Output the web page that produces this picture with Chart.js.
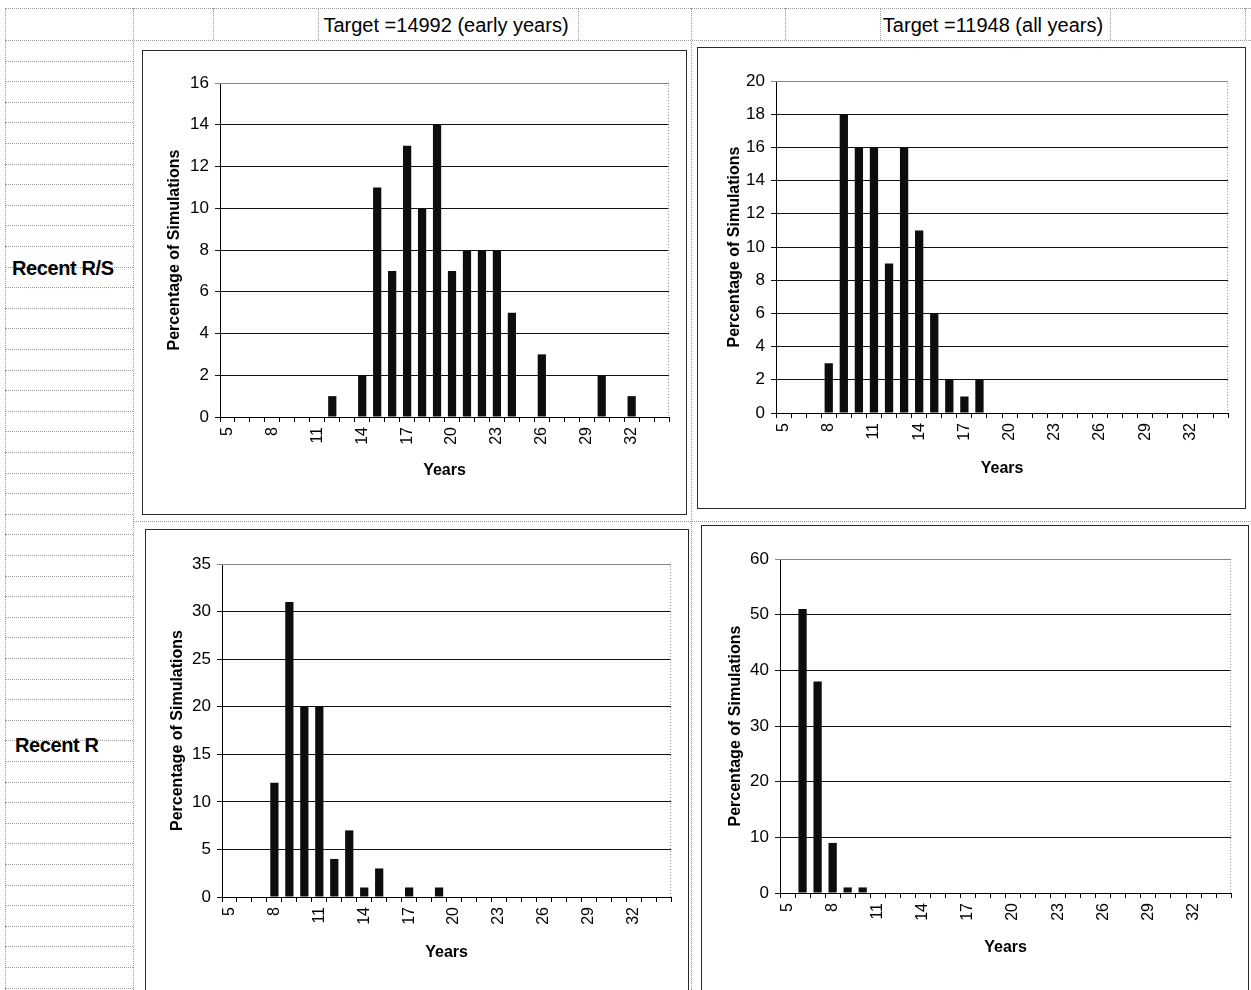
<!DOCTYPE html>
<html>
<head>
<meta charset="utf-8">
<script src="https://cdn.jsdelivr.net/npm/chart.js@4.4.1/dist/chart.umd.min.js"></script>
<style>
  html, body { margin: 0; padding: 0; background: #fff; }
  body { width: 1251px; height: 990px; position: relative; overflow: hidden; font-family: "Liberation Sans", Arial, sans-serif; }
  .hl { position: absolute; height: 0; border-top: 1px dotted #9a9a9a; }
  .vl { position: absolute; width: 0; border-left: 1px dotted #9a9a9a; }
  .box { position: absolute; border: 1px solid #2a2a2a; background: #fff; }
  .box canvas { display: block; }
  .head { position: absolute; font-size: 20px; color: #000; transform: translate(-50%, -50%); white-space: nowrap; }
  .row { position: absolute; font-size: 20px; font-weight: bold; color: #000; transform: translateY(-50%); letter-spacing: -0.4px; white-space: nowrap; }
</style>
</head>
<body>
<div id="sheet"></div>
<div class="head" style="left:446px; top:25px;">Target =14992 (early years)</div>
<div class="head" style="left:993px; top:25px;">Target =11948 (all years)</div>
<div class="row" style="left:12px; top:268px;">Recent R/S</div>
<div class="row" style="left:15px; top:745px;">Recent R</div>

<div class="box" style="left:142px; top:50px;"><canvas id="c1" width="543" height="463"></canvas></div>
<div class="box" style="left:697px; top:47px;"><canvas id="c2" width="547" height="460"></canvas></div>
<div class="box" style="left:145px; top:529px;"><canvas id="c3" width="542" height="468"></canvas></div>
<div class="box" style="left:701px; top:525px;"><canvas id="c4" width="546" height="472"></canvas></div>

<script>
// years on the category axis
const years = ["5", "6", "7", "8", "9", "10", "11", "12", "13", "14", "15", "16", "17", "18", "19",
  "20", "21", "22", "23", "24", "25", "26", "27", "28", "29", "30", "31", "32", "33", "34"];
const shownYears = ["5", "8", "11", "14", "17", "20", "23", "26", "29", "32"];

// percentage of simulations per year
const rsEarly = [0, 0, 0, 0, 0, 0, 0, 1, 0, 2, 11, 7, 13, 10, 14, 7, 8, 8, 8, 5, 0, 3, 0, 0, 0, 2, 0, 1, 0, 0];
const rsAll   = [0, 0, 0, 3, 18, 16, 16, 9, 16, 11, 6, 2, 1, 2, 0, 0, 0, 0, 0, 0, 0, 0, 0, 0, 0, 0, 0, 0, 0, 0];
const rEarly  = [0, 0, 0, 12, 31, 20, 20, 4, 7, 1, 3, 0, 1, 0, 1, 0, 0, 0, 0, 0, 0, 0, 0, 0, 0, 0, 0, 0, 0, 0];
const rAll    = [0, 51, 38, 9, 1, 1, 0, 0, 0, 0, 0, 0, 0, 0, 0, 0, 0, 0, 0, 0, 0, 0, 0, 0, 0, 0, 0, 0, 0, 0];

// spreadsheet cell lines behind the charts
function line(cls, style) {
  const d = document.createElement("div");
  d.className = cls;
  Object.assign(d.style, style);
  document.getElementById("sheet").appendChild(d);
}
line("hl", { left: "5px", top: "8px", width: "1246px" });
line("hl", { left: "5px", top: "40px", width: "1246px" });
for (let y = 60.6; y < 990; y += 20.6) {
  line("hl", { left: "5px", top: Math.round(y) + "px", width: "128px" });
}
line("hl", { left: "133px", top: "521px", width: "1118px" });
[5, 133].forEach((x) => line("vl", { left: x + "px", top: "8px", height: "982px" }));
[213, 318, 578, 785, 880, 1110, 1245].forEach((x) => line("vl", { left: x + "px", top: "8px", height: "32px" }));
line("vl", { left: "691px", top: "8px", height: "982px" });

const plotFrame = {
  id: "plotFrame",
  beforeDatasetsDraw(chart) {
    const { ctx, chartArea: a } = chart;
    ctx.save();
    ctx.strokeStyle = "#888";
    ctx.lineWidth = 1;
    ctx.setLineDash([1, 2]);
    ctx.beginPath();
    ctx.moveTo(a.left, a.top + 0.5);
    ctx.lineTo(a.right - 0.5, a.top + 0.5);
    ctx.lineTo(a.right - 0.5, a.bottom);
    ctx.stroke();
    ctx.restore();
  },
};

function renderHistogram(id, values, yMax, yStep, box) {
  return new Chart(document.getElementById(id), {
    type: "bar",
    data: {
      labels: years,
      datasets: [
        {
          data: values,
          backgroundColor: "#0d0d0d",
          borderWidth: 0,
          barPercentage: 0.55,
          categoryPercentage: 1.0,
        },
      ],
    },
    options: {
      responsive: false,
      animation: false,
      layout: { padding: { top: box.top, right: box.right, left: 0, bottom: 0 } },
      plugins: { legend: { display: false }, tooltip: { enabled: false } },
      scales: {
        x: {
          afterFit: (s) => { s.height = box.xh; },
          grid: { offset: true, drawOnChartArea: false, drawTicks: true, tickLength: 5, color: "#000" },
          border: { color: "#000", width: 1 },
          ticks: {
            autoSkip: false,
            maxRotation: 90,
            minRotation: 90,
            padding: 5,
            color: "#000",
            font: { family: "Liberation Sans", size: 16 },
            callback: (v, i) => (shownYears.includes(years[i]) ? years[i] : ""),
          },
          title: {
            display: true,
            text: "Years",
            color: "#000",
            font: { family: "Liberation Sans", size: 16, weight: "bold" },
            padding: { top: 0, bottom: box.xt },
          },
        },
        y: {
          min: 0,
          max: yMax,
          afterFit: (s) => { s.width = box.yw; },
          grid: {
            color: (c) => (c.tick && c.tick.value === yMax ? "#888" : "#111"),
            tickLength: 5,
            lineWidth: 1,
          },
          border: { color: "#000", width: 1 },
          ticks: {
            stepSize: yStep,
            padding: 6,
            color: "#000",
            font: { family: "Liberation Sans", size: 17 },
          },
          title: {
            display: true,
            text: "Percentage of Simulations",
            color: "#000",
            font: { family: "Liberation Sans", size: 16, weight: "bold" },
            padding: { top: box.yt, bottom: 0 },
          },
        },
      },
    },
    plugins: [plotFrame],
  });
}

renderHistogram("c1", rsEarly, 16, 2, { top: 32, right: 13, yw: 77, xh: 97, yt: 22, xt: 34 });
renderHistogram("c2", rsAll, 20, 2, { top: 33, right: 12, yw: 78, xh: 95, yt: 27, xt: 30 });
renderHistogram("c3", rEarly, 35, 5, { top: 34, right: 11, yw: 76, xh: 101, yt: 22, xt: 36 });
renderHistogram("c4", rAll, 60, 10, { top: 33, right: 12, yw: 78, xh: 105, yt: 24, xt: 41 });
</script>
</body>
</html>
